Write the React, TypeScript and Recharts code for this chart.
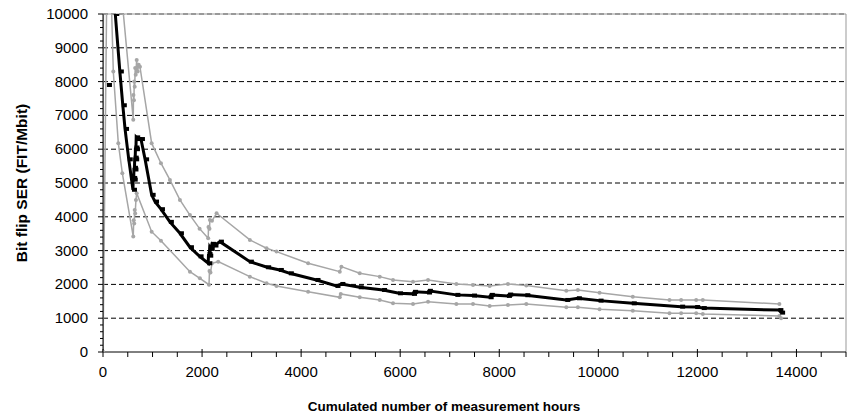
import React from 'react';
import { LineChart, Line, XAxis, YAxis, ReferenceLine } from 'recharts';

// cumulated hours / bit flip SER (FIT/Mbit)
const estHours = [100, 150, 200, 248, 340, 400, 445, 520, 605, 610, 620, 625, 635, 640, 650, 655, 665, 670, 700, 766, 850, 982, 1050, 1170, 1350, 1553, 1755, 1950, 2124, 2130, 2145, 2155, 2175, 2200, 2250, 2360, 2965, 3314, 3570, 3772, 4310, 4714, 4813, 5183, 5654, 5977, 6259, 6280, 6562, 6580, 7134, 7470, 7806, 7830, 8175, 8200, 8546, 9353, 9587, 10025, 10696, 11672, 11975, 12109, 13655, 13690];
const estSer = [7900, null, 10900, 10000, 8300, 7300, 6600, 5700, 4800, 5150, 5100, 5450, 5400, 5750, 5700, 6050, 6000, 6350, 6300, 6300, 5700, 4650, 4450, 4225, 3850, 3513, 3100, 2830, 2625, 2900, 2850, 3100, 3050, 3200, 3150, 3265, 2673, 2507, 2427, 2328, 2131, 1954, 2013, 1915, 1835, 1737, 1720, 1780, 1760, 1810, 1690, 1670, 1620, 1690, 1660, 1700, 1680, 1540, 1590, 1520, 1440, 1342, 1330, 1300, 1240, 1165];

const upperHours = [0, 30, 410, 611, 615, 625, 630, 640, 650, 660, 680, 700, 720, 746, 982, 1170, 1351, 1553, 1755, 1950, 2124, 2130, 2150, 2158, 2200, 2293, 2965, 3302, 3503, 4141, 4780, 4813, 5183, 5587, 5855, 6259, 6562, 7134, 7470, 7806, 8175, 8546, 9353, 9587, 10025, 10696, 11437, 11672, 11975, 12109, 13655];
const upperSer = [0, 40000, 10025, 6870, 7600, 7450, 8000, 7850, 8400, 8200, 8640, 8300, 8500, 8440, 6178, 5585, 5090, 4500, 4050, 3650, 3365, 3700, 3650, 3907, 3880, 4105, 3315, 3070, 2970, 2625, 2377, 2525, 2328, 2230, 2131, 2082, 2131, 2013, 1983, 1954, 2013, 1964, 1815, 1835, 1756, 1638, 1540, 1540, 1540, 1540, 1421];

const lowerHours = [0, 100, 208, 309, 390, 611, 620, 630, 640, 650, 665, 680, 982, 1170, 1755, 1956, 2140, 2150, 2170, 2200, 2326, 2965, 3302, 3503, 4141, 4780, 4800, 5183, 5587, 5855, 6259, 6562, 7134, 7470, 7806, 8175, 8546, 9353, 9587, 10025, 10696, 11437, 11672, 11975, 12109, 13655, 13690];
const lowerSer = [0, 14000, 8300, 6178, 5290, 3414, 3900, 3800, 4200, 4100, 4500, 4700, 3560, 3294, 2377, 2180, 1990, 2400, 2350, 2625, 2673, 2229, 2033, 1954, 1785, 1619, 1717, 1619, 1540, 1441, 1421, 1490, 1421, 1421, 1362, 1391, 1421, 1322, 1322, 1263, 1224, 1145, 1145, 1145, 1125, 1066, 1000];

const xTicks = Array.from({ length: 31 }, (_, i) => i * 500);
const yTicks = Array.from({ length: 51 }, (_, i) => i * 200);
const gridLines = [1000, 2000, 3000, 4000, 5000, 6000, 7000, 8000, 9000];

const toPoints = (hours: number[], ser: (number | null)[]) =>
  hours.map((h, i) => ({ h, v: ser[i] }));

const estimate = toPoints(estHours, estSer);
const upper = toPoints(upperHours, upperSer);
const lower = toPoints(lowerHours, lowerSer);

const FONT = 'Liberation Sans, Arial, sans-serif';
const GREY = '#a6a6a6';

const XTick = (props: any) => {
  const { x, y, payload } = props;
  const major = payload.value % 2000 === 0;
  return (
    <g>
      <line x1={x} x2={x} y1={major ? y - 3 : y} y2={y + 5} stroke="#000" />
      {major && (
        <text x={x} y={y + 25} textAnchor="middle" fontSize={15} fontFamily={FONT} fill="#000">
          {payload.value}
        </text>
      )}
    </g>
  );
};

const YTick = (props: any) => {
  const { x, y, payload } = props;
  const major = payload.value % 1000 === 0;
  return (
    <g>
      <line x1={major ? x - 5 : x - 3} x2={x} y1={y} y2={y} stroke="#000" />
      {major && (
        <text x={x - 15} y={y + 5} textAnchor="end" fontSize={15} fontFamily={FONT} fill="#000">
          {payload.value}
        </text>
      )}
    </g>
  );
};

// axis titles sit at fixed spots, like in the original sheet
const YTitle = () => (
  <text x={21} y={183} transform="rotate(-90 21 183)" textAnchor="middle" dominantBaseline="central"
    fontSize={15.5} fontWeight="bold" fontFamily={FONT} fill="#000">
    Bit flip SER (FIT/Mbit)
  </text>
);

const XTitle = () => (
  <text x={444} y={411} textAnchor="middle" fontSize={13.5} fontWeight="bold" fontFamily={FONT} fill="#000">
    Cumulated number of measurement hours
  </text>
);

const GreyDot = (props: any) => {
  const { cx, cy, value } = props;
  if (value == null || cx == null || cy == null) return <g />;
  return <circle cx={cx} cy={cy} r={2} fill={GREY} stroke="none" />;
};

const BlackDot = (props: any) => {
  const { cx, cy, value } = props;
  if (value == null || cx == null || cy == null) return <g />;
  return <rect x={cx - 1} y={cy - 2} width={5} height={4} fill="#000" />;
};

export default function App() {
  return (
    <div style={{ position: 'absolute', left: 0, top: 0, width: 868, height: 416, background: '#fff' }}>
      <LineChart width={868} height={416} margin={{ top: 14, right: 22, bottom: 0, left: 0 }}>
        <XAxis
          type="number"
          dataKey="h"
          domain={[0, 15000]}
          ticks={xTicks}
          interval={0}
          tick={<XTick />}
          tickLine={false}
          tickSize={0}
          tickMargin={0}
          height={64}
          axisLine={{ stroke: '#000' }}
          allowDataOverflow
          label={<XTitle />}
        />
        <YAxis
          type="number"
          domain={[0, 10000]}
          ticks={yTicks}
          interval={0}
          tick={<YTick />}
          tickLine={false}
          tickSize={0}
          tickMargin={0}
          width={103}
          axisLine={{ stroke: '#000' }}
          allowDataOverflow
          label={<YTitle />}
        />
        {gridLines.map((g) => (
          <ReferenceLine key={g} y={g} stroke="#000" strokeDasharray="5 3" />
        ))}
        <ReferenceLine y={10000} stroke="#999" />
        <ReferenceLine y={10000} stroke="#666" strokeDasharray="5 3" />
        <ReferenceLine x={15000} stroke="#999" />
        <Line data={upper} dataKey="v" stroke={GREY} strokeWidth={1.5} dot={<GreyDot />} isAnimationActive={false} />
        <Line data={lower} dataKey="v" stroke={GREY} strokeWidth={1.5} dot={<GreyDot />} isAnimationActive={false} />
        <Line data={estimate} dataKey="v" stroke="#000" strokeWidth={3} dot={<BlackDot />} isAnimationActive={false} connectNulls={false} />
      </LineChart>
    </div>
  );
}
